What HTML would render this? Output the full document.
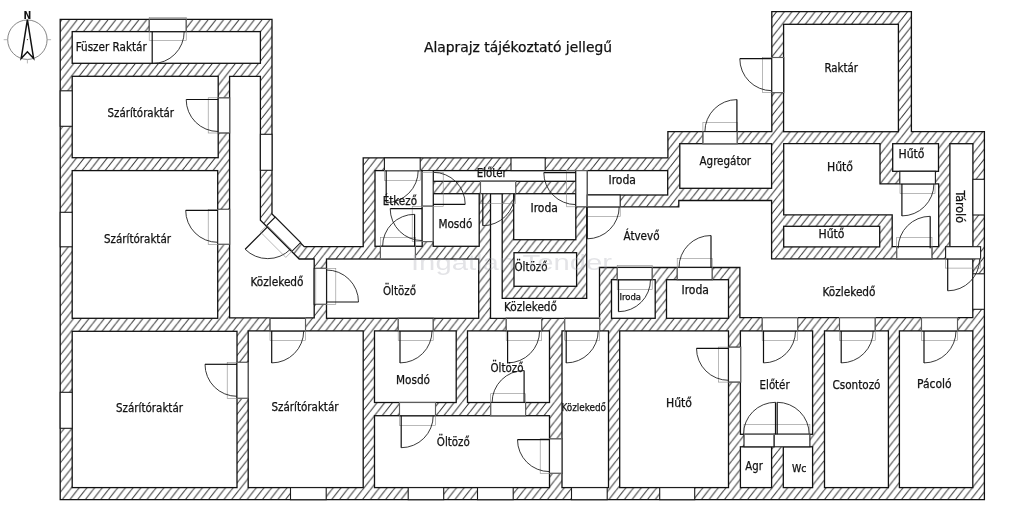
<!DOCTYPE html>
<html lang="hu"><head><meta charset="utf-8"><title>Alaprajz</title>
<style>
html,body{margin:0;padding:0;background:#fff;}
body{width:1024px;height:515px;overflow:hidden;}
svg{display:block;will-change:transform;}
g.t{opacity:0.999;}
g.t text{stroke:#111;stroke-width:0.25;}
text{font-family:"DejaVu Sans Condensed","DejaVu Sans","Liberation Sans",sans-serif;fill:#111;}
.outer{fill:url(#hatch);stroke:#111;stroke-width:1.3;stroke-linejoin:miter;}
.room{fill:#fff;stroke:#111;stroke-width:1.3;stroke-linejoin:miter;}
.open{fill:#fff;stroke:#1a1a1a;stroke-width:1.1;}
.leaf{stroke:#111;stroke-width:1.2;fill:none;}
.arc{stroke:#222;stroke-width:0.9;fill:none;}
.frame{stroke:#8a8a8a;stroke-width:0.6;fill:none;}
.wm{font-family:"Liberation Sans",sans-serif;fill:#a4a6b0;opacity:0.3;}
</style></head><body>
<svg width="1024" height="515" viewBox="0 0 1024 515">
<defs><pattern id="hatch" patternUnits="userSpaceOnUse" width="7.7" height="9.8">
<rect width="7.7" height="9.8" fill="#fff"/>
<path d="M-7.7 9.8 L0 0 M0 9.8 L7.7 0 M7.7 9.8 L15.4 0" stroke="#303030" stroke-width="1" fill="none"/>
</pattern></defs>
<rect width="1024" height="515" fill="#fff"/>
<g transform="translate(0.2,0.3)">
<polygon class="outer" points="60,19 271.8,19 271.8,213.6 304,246.4 363,246.4 363,157.6 667.7,157.6 667.7,131.3 771.6,131.3 771.6,11.3 911.2,11.3 911.2,131.3 984.2,131.3 984.2,499.4 60,499.4"/>
<rect class="room" x="72" y="31.3" width="188.2" height="31.7"/>
<rect class="room" x="72" y="76" width="146" height="81.4"/>
<rect class="room" x="72" y="170.3" width="145.5" height="147.7"/>
<rect class="room" x="72" y="331" width="164.8" height="156.3"/>
<rect class="room" x="248" y="330.6" width="115" height="156.7"/>
<rect class="room" x="326.3" y="258.7" width="152.2" height="59.3"/>
<rect class="room" x="374.8" y="170.3" width="47.2" height="75.7"/>
<rect class="room" x="433" y="193.4" width="46" height="52.6"/>
<rect class="room" x="433" y="170.3" width="142.6" height="10.7"/>
<rect class="room" x="513.5" y="193.4" width="62.1" height="46"/>
<rect class="room" x="513.8" y="252.4" width="62.6" height="33.6"/>
<rect class="room" x="587" y="170.3" width="80.5" height="24.4"/>
<rect class="room" x="679.6" y="143.4" width="91.8" height="44.6"/>
<rect class="room" x="783.4" y="24" width="114.8" height="107.4"/>
<rect class="room" x="892.5" y="143.4" width="45.8" height="27.6"/>
<rect class="room" x="783.5" y="226" width="96" height="20.6"/>
<rect class="room" x="949.7" y="143.4" width="23" height="103"/>
<rect class="room" x="611.3" y="279.4" width="43.7" height="38.6"/>
<rect class="room" x="666.3" y="279.4" width="62" height="38.6"/>
<rect class="room" x="374.3" y="330.6" width="81.7" height="71.6"/>
<rect class="room" x="467.3" y="330.6" width="82" height="71.6"/>
<rect class="room" x="374.3" y="415.4" width="175" height="71.9"/>
<rect class="room" x="561.8" y="330.6" width="46.5" height="156.7"/>
<rect class="room" x="619.5" y="330.6" width="108.8" height="156.7"/>
<rect class="room" x="740.2" y="330.6" width="72.2" height="103.4"/>
<rect class="room" x="740.2" y="446.5" width="31.2" height="40.8"/>
<rect class="room" x="783.1" y="446.5" width="29.3" height="40.8"/>
<rect class="room" x="824.3" y="330.6" width="63.9" height="156.7"/>
<rect class="room" x="899.2" y="330.6" width="73.4" height="156.7"/>
<polygon class="room" points="229.4,76 260.2,76 260.2,220 299,258.7 314,258.7 314,317.6 229.4,317.6"/>
<polygon class="room" points="783.5,143.4 879.8,143.4 879.8,183.6 938.5,183.6 938.5,246.4 892,246.4 892,214.6 783.5,214.6"/>
<polygon class="room" points="490.3,193.4 502,193.4 502,298 586.5,298 586.5,206.5 678.6,206.5 678.6,200.2 771.4,200.2 771.4,258.5 972.6,258.5 972.6,317.4 739.7,317.4 739.7,267.2 599.3,267.2 599.3,318 490.3,318"/>
<rect class="open" x="60" y="90.5" width="12" height="35.5"/>
<rect class="open" x="60" y="212" width="12" height="34.5"/>
<rect class="open" x="60" y="392" width="12" height="36"/>
<rect class="open" x="149" y="19" width="37" height="12.3"/>
<rect class="open" x="260.2" y="134" width="11.6" height="36"/>
<rect class="open" x="384.2" y="157.6" width="35.8" height="12.7"/>
<rect class="open" x="510.8" y="157.6" width="34.2" height="12.7"/>
<rect class="open" x="702.7" y="131.3" width="34.3" height="12.1"/>
<rect class="open" x="771.6" y="57.2" width="11.8" height="35.1"/>
<rect class="open" x="972.7" y="179" width="11.5" height="35.7"/>
<rect class="open" x="972.6" y="273.5" width="11.6" height="35.5"/>
<rect class="open" x="290.3" y="487.3" width="35.7" height="12.1"/>
<rect class="open" x="408" y="487.3" width="35.5" height="12.1"/>
<rect class="open" x="477.3" y="487.3" width="35.7" height="12.1"/>
<rect class="open" x="571.3" y="487.3" width="35.7" height="12.1"/>
<rect class="open" x="659.5" y="487.3" width="35" height="12.1"/>
<rect class="open" x="218" y="97.5" width="11.4" height="35.2"/>
<rect class="open" x="217.5" y="209" width="11.9" height="35"/>
<rect class="open" x="236.8" y="362" width="11.2" height="36"/>
<rect class="open" x="314" y="268" width="12.3" height="36"/>
<rect class="open" x="422" y="170.3" width="11" height="35.7"/>
<rect class="open" x="422" y="206" width="11" height="35.3"/>
<rect class="open" x="380.2" y="246" width="35" height="12.7"/>
<rect class="open" x="480.3" y="181" width="35.2" height="12.4"/>
<rect class="open" x="575.6" y="170.3" width="11.4" height="36.2"/>
<rect class="open" x="587" y="194.7" width="33" height="11.8"/>
<rect class="open" x="617" y="267.2" width="35" height="12.2"/>
<rect class="open" x="677" y="267.2" width="35" height="12.2"/>
<rect class="open" x="899.6" y="171" width="35.6" height="12.6"/>
<rect class="open" x="896.5" y="246.4" width="35.3" height="12.1"/>
<rect class="open" x="945.4" y="246.4" width="35" height="12.1"/>
<rect class="open" x="269.8" y="318" width="35.5" height="12.6"/>
<rect class="open" x="398" y="318" width="35" height="12.6"/>
<rect class="open" x="506" y="318" width="35.5" height="12.6"/>
<rect class="open" x="564.5" y="318" width="35" height="12.6"/>
<rect class="open" x="399.3" y="402.2" width="36" height="13.2"/>
<rect class="open" x="490.5" y="402.2" width="34.9" height="13.2"/>
<rect class="open" x="549.3" y="438.5" width="12.5" height="34.5"/>
<rect class="open" x="728.3" y="346.8" width="12.2" height="35"/>
<rect class="open" x="762" y="317.4" width="35.5" height="13.2"/>
<rect class="open" x="839.3" y="317.4" width="35.7" height="13.2"/>
<rect class="open" x="921.3" y="317.4" width="36" height="13.2"/>
<rect class="open" x="743.8" y="434" width="30.2" height="12.5"/>
<rect class="open" x="774" y="434" width="35.7" height="12.5"/>
<polygon class="open" points="275,216.8 300.46,242.26 291.97,250.74 266.51,225.29"/>
<path class="arc" d="M244.95 248.97 A32 32 0 0 0 290.2 248.97"/>
<line class="leaf" x1="267.58" y1="226.35" x2="244.95" y2="248.97"/>
<polygon class="frame" points="266.51,225.29 291.97,250.74 285.61,257.11 260.15,231.65"/>
<rect class="frame" x="149" y="17" width="37" height="23"/>
<rect class="frame" x="208" y="97.5" width="21.4" height="35.2"/>
<rect class="frame" x="208" y="209" width="21.4" height="35"/>
<rect class="frame" x="227" y="362" width="21" height="36"/>
<rect class="frame" x="315.6" y="268" width="20" height="36"/>
<rect class="frame" x="384.2" y="170.3" width="35.8" height="9.7"/>
<rect class="frame" x="422" y="172" width="21" height="34"/>
<rect class="frame" x="412" y="206" width="21" height="35.3"/>
<rect class="frame" x="380.2" y="237" width="35" height="21.7"/>
<rect class="frame" x="480.3" y="181" width="35.2" height="22"/>
<rect class="frame" x="566.5" y="170.3" width="20.5" height="36.2"/>
<rect class="frame" x="587" y="206.5" width="33" height="9.5"/>
<rect class="frame" x="702.7" y="122" width="34.3" height="21.4"/>
<rect class="frame" x="762.2" y="57.2" width="22.2" height="35.1"/>
<rect class="frame" x="899.8" y="183.6" width="35" height="9.7"/>
<rect class="frame" x="896.5" y="237" width="35.3" height="21.5"/>
<rect class="frame" x="945.4" y="258.5" width="35" height="9.3"/>
<rect class="frame" x="617" y="265" width="35" height="24.3"/>
<rect class="frame" x="677" y="258" width="35" height="22"/>
<rect class="frame" x="269.8" y="317.4" width="35.5" height="22.6"/>
<rect class="frame" x="398" y="317.4" width="35" height="22.6"/>
<rect class="frame" x="506" y="317.4" width="35.5" height="22.6"/>
<rect class="frame" x="564.5" y="317.4" width="35" height="22.6"/>
<rect class="frame" x="399.3" y="402.2" width="36" height="22.8"/>
<rect class="frame" x="490.5" y="393.4" width="34.9" height="22"/>
<rect class="frame" x="540" y="438.5" width="21.8" height="34.5"/>
<rect class="frame" x="718.3" y="346.8" width="22.2" height="35"/>
<rect class="frame" x="762" y="317.4" width="35.5" height="22.6"/>
<rect class="frame" x="839.3" y="317.4" width="35.7" height="22.6"/>
<rect class="frame" x="921.3" y="317.4" width="36" height="22.6"/>
<rect class="frame" x="743.8" y="424.3" width="65.9" height="9.7"/>
<path class="arc" d="M152 63.3 A32 32 0 0 0 184 31.3"/>
<line class="leaf" x1="152" y1="31.3" x2="152" y2="63.3"/>
<path class="arc" d="M186 99.2 A32 32 0 0 0 218 131.2"/>
<line class="leaf" x1="218" y1="99.2" x2="186" y2="99.2"/>
<path class="arc" d="M185.5 210 A32 32 0 0 0 217.5 242"/>
<line class="leaf" x1="217.5" y1="210" x2="185.5" y2="210"/>
<path class="arc" d="M204.8 364 A32 32 0 0 0 236.8 396"/>
<line class="leaf" x1="236.8" y1="364" x2="204.8" y2="364"/>
<path class="arc" d="M358.3 301.7 A32 32 0 0 0 326.3 269.7"/>
<line class="leaf" x1="326.3" y1="301.7" x2="358.3" y2="301.7"/>
<path class="arc" d="M386 202.3 A32 32 0 0 0 418 170.3"/>
<line class="leaf" x1="386" y1="170.3" x2="386" y2="202.3"/>
<path class="arc" d="M465 204 A32 32 0 0 0 433 172"/>
<line class="leaf" x1="433" y1="204" x2="465" y2="204"/>
<path class="arc" d="M390 208.3 A32 32 0 0 0 422 240.3"/>
<line class="leaf" x1="422" y1="208.3" x2="390" y2="208.3"/>
<path class="arc" d="M414.4 214 A32 32 0 0 0 382.4 246"/>
<line class="leaf" x1="414.4" y1="246" x2="414.4" y2="214"/>
<path class="arc" d="M482.6 225.4 A32 32 0 0 0 514.6 193.4"/>
<line class="leaf" x1="482.6" y1="193.4" x2="482.6" y2="225.4"/>
<path class="arc" d="M543.6 172.3 A32 32 0 0 0 575.6 204.3"/>
<line class="leaf" x1="575.6" y1="172.3" x2="543.6" y2="172.3"/>
<path class="arc" d="M587 238.5 A32 32 0 0 0 619 206.5"/>
<line class="leaf" x1="587" y1="206.5" x2="587" y2="238.5"/>
<path class="arc" d="M736.7 99.3 A32 32 0 0 0 704.7 131.3"/>
<line class="leaf" x1="736.7" y1="131.3" x2="736.7" y2="99.3"/>
<path class="arc" d="M739.6 58.4 A32 32 0 0 0 771.6 90.4"/>
<line class="leaf" x1="771.6" y1="58.4" x2="739.6" y2="58.4"/>
<path class="arc" d="M901.7 215.6 A32 32 0 0 0 933.7 183.6"/>
<line class="leaf" x1="901.7" y1="183.6" x2="901.7" y2="215.6"/>
<path class="arc" d="M930 216 A32 32 0 0 0 898 248"/>
<line class="leaf" x1="930" y1="248" x2="930" y2="216"/>
<path class="arc" d="M947.5 290.5 A32 32 0 0 0 979.5 258.5"/>
<line class="leaf" x1="947.5" y1="258.5" x2="947.5" y2="290.5"/>
<path class="arc" d="M618.3 311.4 A32 32 0 0 0 650.3 279.4"/>
<line class="leaf" x1="618.3" y1="279.4" x2="618.3" y2="311.4"/>
<path class="arc" d="M710.8 235.2 A32 32 0 0 0 678.8 267.2"/>
<line class="leaf" x1="710.8" y1="267.2" x2="710.8" y2="235.2"/>
<path class="arc" d="M271.5 362.6 A32 32 0 0 0 303.5 330.6"/>
<line class="leaf" x1="271.5" y1="330.6" x2="271.5" y2="362.6"/>
<path class="arc" d="M399.8 362.6 A32 32 0 0 0 431.8 330.6"/>
<line class="leaf" x1="399.8" y1="330.6" x2="399.8" y2="362.6"/>
<path class="arc" d="M507.4 362.6 A32 32 0 0 0 539.4 330.6"/>
<line class="leaf" x1="507.4" y1="330.6" x2="507.4" y2="362.6"/>
<path class="arc" d="M566 362.6 A32 32 0 0 0 598 330.6"/>
<line class="leaf" x1="566" y1="330.6" x2="566" y2="362.6"/>
<path class="arc" d="M401 447.4 A32 32 0 0 0 433 415.4"/>
<line class="leaf" x1="401" y1="415.4" x2="401" y2="447.4"/>
<path class="arc" d="M523.9 370.2 A32 32 0 0 0 491.9 402.2"/>
<line class="leaf" x1="523.9" y1="402.2" x2="523.9" y2="370.2"/>
<path class="arc" d="M517.3 439.3 A32 32 0 0 0 549.3 471.3"/>
<line class="leaf" x1="549.3" y1="439.3" x2="517.3" y2="439.3"/>
<path class="arc" d="M696.3 348 A32 32 0 0 0 728.3 380"/>
<line class="leaf" x1="728.3" y1="348" x2="696.3" y2="348"/>
<path class="arc" d="M763.3 362.6 A32 32 0 0 0 795.3 330.6"/>
<line class="leaf" x1="763.3" y1="330.6" x2="763.3" y2="362.6"/>
<path class="arc" d="M841 362.6 A32 32 0 0 0 873 330.6"/>
<line class="leaf" x1="841" y1="330.6" x2="841" y2="362.6"/>
<path class="arc" d="M923.8 362.6 A32 32 0 0 0 955.8 330.6"/>
<line class="leaf" x1="923.8" y1="330.6" x2="923.8" y2="362.6"/>
<path class="arc" d="M775.3 402 A32 32 0 0 0 743.3 434"/>
<line class="leaf" x1="775.3" y1="434" x2="775.3" y2="402"/>
<path class="arc" d="M777 402 A32 32 0 0 1 809 434"/>
<line class="leaf" x1="777" y1="434" x2="777" y2="402"/>
</g>
<circle cx="27.4" cy="39.7" r="19.7" fill="none" stroke="#666" stroke-width="0.8"/>
<path d="M7.7 39.7 h-4 M47.1 39.7 h4 M27.4 59.4 v4" stroke="#999" stroke-width="0.7" fill="none"/>
<path d="M27.4 19.6 L21.2 58.4 L27.4 51.8 L33.6 58.4 Z" fill="none" stroke="#111" stroke-width="1.5" stroke-linejoin="miter"/>
<circle cx="27.4" cy="39.6" r="0.6" fill="#333"/>
<text x="23.6" y="18.8" font-size="9.6" font-weight="bold" font-family="Liberation Sans, sans-serif" textLength="7.8" lengthAdjust="spacingAndGlyphs">N</text>
<g class="t">
<text x="75.7" y="51.2" font-size="11.8" textLength="71" lengthAdjust="spacingAndGlyphs">Füszer Raktár</text>
<text x="424" y="51.7" font-size="14" textLength="188" lengthAdjust="spacingAndGlyphs">Alaprajz tájékoztató jellegű</text>
<text x="824.5" y="72" font-size="11.8" textLength="33.5" lengthAdjust="spacingAndGlyphs">Raktár</text>
<text x="107.6" y="116.6" font-size="11.8" textLength="66.5" lengthAdjust="spacingAndGlyphs">Szárítóraktár</text>
<text x="104" y="243" font-size="11.8" textLength="67" lengthAdjust="spacingAndGlyphs">Szárítóraktár</text>
<text x="116" y="411.5" font-size="11.8" textLength="67" lengthAdjust="spacingAndGlyphs">Szárítóraktár</text>
<text x="271.5" y="410.5" font-size="11.8" textLength="67" lengthAdjust="spacingAndGlyphs">Szárítóraktár</text>
<text x="250.5" y="286" font-size="11.8" textLength="53" lengthAdjust="spacingAndGlyphs">Közlekedő</text>
<text x="383" y="294.5" font-size="11.8" textLength="33" lengthAdjust="spacingAndGlyphs">Öltöző</text>
<text x="382.7" y="204.8" font-size="11.8" textLength="34.3" lengthAdjust="spacingAndGlyphs">Étkező</text>
<text x="438.4" y="227.6" font-size="11.8" textLength="34" lengthAdjust="spacingAndGlyphs">Mosdó</text>
<text x="476.8" y="177" font-size="11.8" textLength="30" lengthAdjust="spacingAndGlyphs">Előtér</text>
<text x="530.5" y="212" font-size="11.8" textLength="27.5" lengthAdjust="spacingAndGlyphs">Iroda</text>
<text x="608.5" y="183.6" font-size="11.8" textLength="27.5" lengthAdjust="spacingAndGlyphs">Iroda</text>
<text x="514.5" y="270.7" font-size="11.8" textLength="33" lengthAdjust="spacingAndGlyphs">Öltöző</text>
<text x="504" y="310.7" font-size="11.8" textLength="53" lengthAdjust="spacingAndGlyphs">Közlekedő</text>
<text x="623.5" y="239.5" font-size="11.8" textLength="36" lengthAdjust="spacingAndGlyphs">Átvevő</text>
<text x="699.5" y="165.3" font-size="11.8" textLength="51.5" lengthAdjust="spacingAndGlyphs">Agregátor</text>
<text x="827" y="171" font-size="11.8" textLength="26" lengthAdjust="spacingAndGlyphs">Hűtő</text>
<text x="898.5" y="157.8" font-size="11.8" textLength="26" lengthAdjust="spacingAndGlyphs">Hűtő</text>
<text x="818.5" y="237.8" font-size="11.8" textLength="26" lengthAdjust="spacingAndGlyphs">Hűtő</text>
<text x="822.5" y="296" font-size="11.8" textLength="53" lengthAdjust="spacingAndGlyphs">Közlekedő</text>
<text x="619.5" y="300" font-size="9.5" textLength="21.5" lengthAdjust="spacingAndGlyphs">Iroda</text>
<text x="681.5" y="293.8" font-size="11.8" textLength="27.5" lengthAdjust="spacingAndGlyphs">Iroda</text>
<text x="396" y="383.5" font-size="11.8" textLength="34" lengthAdjust="spacingAndGlyphs">Mosdó</text>
<text x="490.5" y="371.5" font-size="11.8" textLength="33" lengthAdjust="spacingAndGlyphs">Öltöző</text>
<text x="436.8" y="446.3" font-size="11.8" textLength="33" lengthAdjust="spacingAndGlyphs">Öltöző</text>
<text x="561.4" y="411.4" font-size="11.2" textLength="44.6" lengthAdjust="spacingAndGlyphs">Közlekedő</text>
<text x="666" y="406.7" font-size="11.8" textLength="26" lengthAdjust="spacingAndGlyphs">Hűtő</text>
<text x="759.6" y="388.8" font-size="11.8" textLength="30" lengthAdjust="spacingAndGlyphs">Előtér</text>
<text x="832.5" y="389.4" font-size="11.8" textLength="48" lengthAdjust="spacingAndGlyphs">Csontozó</text>
<text x="917" y="387.6" font-size="11.8" textLength="34.6" lengthAdjust="spacingAndGlyphs">Pácoló</text>
<text x="745.3" y="469.8" font-size="11.8" textLength="17.5" lengthAdjust="spacingAndGlyphs">Agr</text>
<text x="792" y="471.5" font-size="10" textLength="14.5" lengthAdjust="spacingAndGlyphs">Wc</text>
<text transform="translate(956,190.5) rotate(90)" font-size="11.8" textLength="32.5" lengthAdjust="spacingAndGlyphs">Tároló</text>
</g>
<text class="wm" x="411" y="269.8" font-size="22.5" textLength="201" lengthAdjust="spacingAndGlyphs">Ingatlan Tender</text>
</svg></body></html>
